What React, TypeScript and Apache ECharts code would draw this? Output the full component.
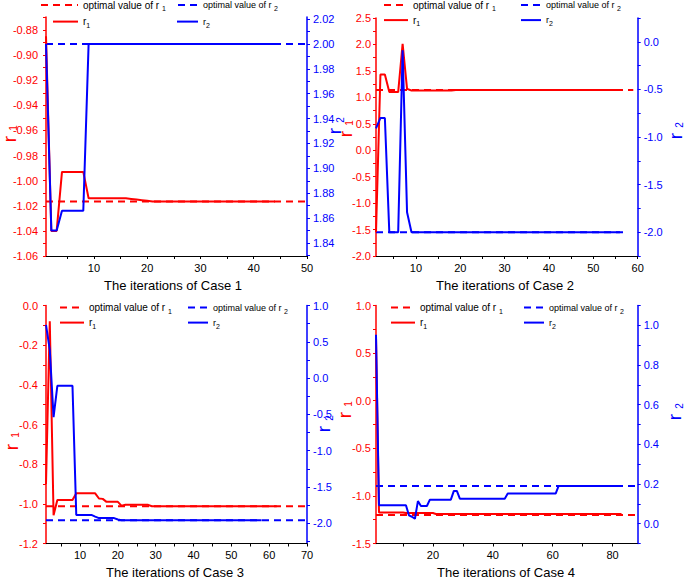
import React, { useEffect, useRef } from 'react';
import * as echarts from 'echarts';

const FONT = "'Liberation Sans', Arial, Helvetica, sans-serif";
const RED = '#ff0000';
const BLUE = '#0000ff';

// ---------------- Case 1 ----------------
const CASE1_R1 = [
  -0.885, -1.04, -1.04, -0.993, -0.993, -0.993, -0.993, -0.993,
  -1.014, -1.014, -1.014, -1.014, -1.014, -1.014, -1.014, -1.014,
  -1.0145, -1.015, -1.0155, -1.016,
  -1.0165, -1.0165, -1.0165, -1.0165, -1.0165, -1.0165, -1.0165, -1.0165,
  -1.0165, -1.0165, -1.0165, -1.0165, -1.0165, -1.0165, -1.0165, -1.0165,
  -1.0165, -1.0165, -1.0165, -1.0165, -1.0165, -1.0165, -1.0165, -1.0165,
];
const CASE1_R2 = [
  2.0, 1.85, 1.85, 1.866, 1.866, 1.866, 1.866, 1.866,
  2.0, 2.0, 2.0, 2.0, 2.0, 2.0, 2.0, 2.0, 2.0, 2.0, 2.0, 2.0,
  2.0, 2.0, 2.0, 2.0, 2.0, 2.0, 2.0, 2.0, 2.0, 2.0, 2.0, 2.0,
  2.0, 2.0, 2.0, 2.0, 2.0, 2.0, 2.0, 2.0, 2.0, 2.0, 2.0, 2.0,
];
const CASE1_OPT_R1 = -1.0165;
const CASE1_OPT_R2 = 2.0;
const CASE1_OPT_SPAN = [1, 50];

// ---------------- Case 2 ----------------
const CASE2_R1 = [
  -1.55, 1.43, 1.43, 1.1, 1.1, 1.1, 2.01, 1.16,
  1.13, 1.13, 1.13, 1.13, 1.13, 1.13, 1.13, 1.13, 1.13, 1.13,
  1.14, 1.14, 1.14, 1.14, 1.14, 1.14, 1.14, 1.14, 1.14, 1.14,
  1.14, 1.14, 1.14, 1.14, 1.14, 1.14, 1.14, 1.14, 1.14, 1.14,
  1.14, 1.14, 1.14, 1.14, 1.14, 1.14, 1.14, 1.14, 1.14, 1.14,
  1.14, 1.14, 1.14, 1.14, 1.14, 1.14, 1.14, 1.14,
];
const CASE2_R2 = [
  -0.91, -0.8, -0.8, -2.0, -2.0, -2.0, -0.09, -1.79,
  -2.0, -2.0, -2.0, -2.0, -2.0, -2.0, -2.0, -2.0, -2.0, -2.0, -2.0, -2.0,
  -2.0, -2.0, -2.0, -2.0, -2.0, -2.0, -2.0, -2.0, -2.0, -2.0, -2.0, -2.0,
  -2.0, -2.0, -2.0, -2.0, -2.0, -2.0, -2.0, -2.0, -2.0, -2.0, -2.0, -2.0,
  -2.0, -2.0, -2.0, -2.0, -2.0, -2.0, -2.0, -2.0, -2.0, -2.0, -2.0, -2.0,
];
const CASE2_OPT_R1 = 1.14;
const CASE2_OPT_R2 = -2.0;
const CASE2_OPT_R1_SPAN = [1, 59];
const CASE2_OPT_R2_SPAN = [1, 57];

// ---------------- Case 3 ----------------
const CASE3_R1 = [
  -0.9, -0.08, -1.057, -0.981, -0.981, -0.981, -0.981, -0.981,
  -0.947, -0.947, -0.947, -0.947, -0.947, -0.947,
  -0.973, -0.975, -0.99, -0.99, -0.99, -0.99,
  -1.01, -1.005, -1.005, -1.005, -1.005, -1.005, -1.005, -1.005,
  -1.012, -1.012, -1.012, -1.012, -1.012, -1.012, -1.012, -1.012,
  -1.012, -1.012, -1.012, -1.012, -1.012, -1.012, -1.012, -1.012,
  -1.012, -1.012, -1.012, -1.012, -1.012, -1.012, -1.012, -1.012,
  -1.012, -1.012, -1.012, -1.012, -1.012, -1.012, -1.012, -1.012,
  -1.012, -1.012,
];
const CASE3_R2 = [
  0.734, 0.389, -0.539, -0.107, -0.107, -0.107, -0.107, -0.107,
  -1.886, -1.886, -1.886, -1.886, -1.886, -1.91,
  -1.93, -1.93, -1.93, -1.93, -1.93, -1.95,
  -1.96, -1.96, -1.96, -1.96, -1.96, -1.96, -1.96, -1.96, -1.96, -1.96,
  -1.96, -1.96, -1.96, -1.96, -1.96, -1.96, -1.96, -1.96, -1.96, -1.96,
  -1.96, -1.96, -1.96, -1.96, -1.96, -1.96, -1.96, -1.96, -1.96, -1.96,
  -1.96, -1.96, -1.96, -1.96, -1.96, -1.96, -1.96, -1.96,
];
const CASE3_OPT_R1 = -1.012;
const CASE3_OPT_R2 = -1.96;
const CASE3_OPT_SPAN = [1, 70];

// ---------------- Case 4 ----------------
const CASE4_R1 = [
  0.674, -1.174, -1.174, -1.174, -1.174, -1.174, -1.174, -1.174, -1.174, -1.174,
  -1.18, -1.18, -1.18, -1.18, -1.18, -1.18, -1.18, -1.18, -1.18, -1.18,
  -1.19, -1.19, -1.19, -1.19, -1.19, -1.19, -1.19, -1.19, -1.19, -1.19,
  -1.19, -1.19, -1.19, -1.19, -1.19, -1.19, -1.19, -1.19, -1.19, -1.19,
  -1.19, -1.19, -1.19, -1.19, -1.19, -1.19, -1.19, -1.19, -1.19, -1.19,
  -1.19, -1.19, -1.19, -1.19, -1.19, -1.19, -1.19, -1.19, -1.19, -1.19,
  -1.19, -1.19, -1.19, -1.19, -1.19, -1.19, -1.19, -1.19, -1.19, -1.19,
  -1.19, -1.19, -1.19, -1.19, -1.19, -1.19, -1.19, -1.19, -1.19, -1.19,
  -1.19, -1.19, -1.19,
];
const CASE4_R2 = [
  0.953, 0.093, 0.093, 0.093, 0.093, 0.093, 0.093, 0.093, 0.093, 0.093, 0.093,
  0.042, 0.035, 0.025, 0.114, 0.089, 0.089, 0.089,
  0.121, 0.121, 0.121, 0.121, 0.121, 0.121, 0.121, 0.121,
  0.165, 0.165,
  0.126, 0.126, 0.126, 0.126, 0.126, 0.126, 0.126, 0.126,
  0.126, 0.126, 0.126, 0.126, 0.126, 0.126, 0.126, 0.126,
  0.152, 0.152, 0.152, 0.152, 0.152, 0.152, 0.152, 0.152, 0.152,
  0.152, 0.152, 0.152, 0.152, 0.152, 0.152, 0.152, 0.152,
  0.19, 0.19, 0.19, 0.19, 0.19, 0.19, 0.19, 0.19, 0.19, 0.19, 0.19,
  0.19, 0.19, 0.19, 0.19, 0.19, 0.19, 0.19, 0.19, 0.19, 0.19, 0.19,
];
const CASE4_OPT_R1 = -1.2;
const CASE4_OPT_R2 = 0.19;
const CASE4_OPT_SPAN = [1, 88];

// ---------------- tick labels ----------------
const X1_LABELS = [10, 20, 30, 40, 50];
const X1_TICKS = [5, 10, 15, 20, 25, 30, 35, 40, 45, 50];
const X2_LABELS = [10, 20, 30, 40, 50, 60];
const X2_TICKS = [5, 10, 15, 20, 25, 30, 35, 40, 45, 50, 55, 60];
const X3_LABELS = [10, 20, 30, 40, 50, 60, 70];
const X3_TICKS = [5, 10, 15, 20, 25, 30, 35, 40, 45, 50, 55, 60, 65, 70];
const X4_LABELS = [20, 40, 60, 80];
const X4_TICKS = [10, 20, 30, 40, 50, 60, 70, 80];

const L1_LABELS = [-1.06, -1.04, -1.02, -1.0, -0.98, -0.96, -0.94, -0.92, -0.9, -0.88];
const L1_TICKS = [-1.06, -1.05, -1.04, -1.03, -1.02, -1.01, -1.0, -0.99, -0.98, -0.97,
  -0.96, -0.95, -0.94, -0.93, -0.92, -0.91, -0.9, -0.89, -0.88, -0.87];
const R1_LABELS = [1.84, 1.86, 1.88, 1.9, 1.92, 1.94, 1.96, 1.98, 2.0, 2.02];
const R1_TICKS = [1.83, 1.84, 1.85, 1.86, 1.87, 1.88, 1.89, 1.9, 1.91, 1.92,
  1.93, 1.94, 1.95, 1.96, 1.97, 1.98, 1.99, 2.0, 2.01, 2.02];

const L2_LABELS = [-2.0, -1.5, -1.0, -0.5, 0.0, 0.5, 1.0, 1.5, 2.0, 2.5];
const L2_TICKS = [-2.0, -1.75, -1.5, -1.25, -1.0, -0.75, -0.5, -0.25, 0.0, 0.25,
  0.5, 0.75, 1.0, 1.25, 1.5, 1.75, 2.0, 2.25, 2.5];
const R2_LABELS = [-2.0, -1.5, -1.0, -0.5, 0.0];
const R2_TICKS = [-2.25, -2.0, -1.75, -1.5, -1.25, -1.0, -0.75, -0.5, -0.25, 0.0, 0.25];

const L3_LABELS = [-1.2, -1.0, -0.8, -0.6, -0.4, -0.2, 0.0];
const L3_TICKS = [-1.2, -1.1, -1.0, -0.9, -0.8, -0.7, -0.6, -0.5, -0.4, -0.3, -0.2, -0.1, 0.0];
const R3_LABELS = [-2.0, -1.5, -1.0, -0.5, 0.0, 0.5, 1.0];
const R3_TICKS = [-2.25, -2.0, -1.75, -1.5, -1.25, -1.0, -0.75, -0.5, -0.25, 0.0, 0.25, 0.5, 0.75, 1.0];

const L4_LABELS = [-1.5, -1.0, -0.5, 0.0, 0.5, 1.0];
const L4_TICKS = [-1.5, -1.25, -1.0, -0.75, -0.5, -0.25, 0.0, 0.25, 0.5, 0.75, 1.0];
const R4_LABELS = [0.0, 0.2, 0.4, 0.6, 0.8, 1.0];
const R4_TICKS = [-0.1, 0.0, 0.1, 0.2, 0.3, 0.4, 0.5, 0.6, 0.7, 0.8, 0.9, 1.0, 1.1];

const TITLES = ['The iterations of Case 1', 'The iterations of Case 2', 'The iterations of Case 3', 'The iterations of Case 4'];

// ---------------- layout (positions / styles) ----------------
const PANELS = [
  {
    grid: { left: 46, top: 17, width: 261, height: 239 },
    x: { min: 1, max: 50, labels: X1_LABELS, ticks: X1_TICKS },
    l: { min: -1.06, max: -0.8696, labels: L1_LABELS, ticks: L1_TICKS, digits: 2, margin: 8 },
    r: { min: 1.8296, max: 2.0216, labels: R1_LABELS, ticks: R1_TICKS, digits: 2, margin: 6 },
    r1: CASE1_R1, r2: CASE1_R2, opt1: CASE1_OPT_R1, opt2: CASE1_OPT_R2,
    span1: CASE1_OPT_SPAN, span2: CASE1_OPT_SPAN,
    leg: { x1: 40, w1: 37, x2: 177, w2: 20, x3: 52, w3: 25, x4: 176, w4: 21, y1: 6.5, y2: 23 },
    names: { l: [9, 139, 13, 128], r: [334, 131, 340, 120] },
    title: [173, 285],
  },
  {
    grid: { left: 376, top: 18, width: 261.7, height: 238 },
    x: { min: 1, max: 60, labels: X2_LABELS, ticks: X2_TICKS },
    l: { min: -2.0, max: 2.5, labels: L2_LABELS, ticks: L2_TICKS, digits: 1, margin: 5 },
    r: { min: -2.25, max: 0.25, labels: R2_LABELS, ticks: R2_TICKS, digits: 1, margin: 6 },
    r1: CASE2_R1, r2: CASE2_R2, opt1: CASE2_OPT_R1, opt2: CASE2_OPT_R2,
    span1: CASE2_OPT_R1_SPAN, span2: CASE2_OPT_R2_SPAN,
    leg: { x1: 383, w1: 24, x2: 520, w2: 20, x3: 383, w3: 24, x4: 520, w4: 20, y1: 6.5, y2: 21.5 },
    names: { l: [345, 134, 349, 123], r: [675, 136, 679, 125] },
    title: [505, 285],
  },
  {
    grid: { left: 46, top: 305.5, width: 261, height: 238 },
    x: { min: 1, max: 70, labels: X3_LABELS, ticks: X3_TICKS },
    l: { min: -1.2, max: 0.0, labels: L3_LABELS, ticks: L3_TICKS, digits: 1, margin: 8 },
    r: { min: -2.28, max: 1.0, labels: R3_LABELS, ticks: R3_TICKS, digits: 1, margin: 6 },
    r1: CASE3_R1, r2: CASE3_R2, opt1: CASE3_OPT_R1, opt2: CASE3_OPT_R2,
    span1: CASE3_OPT_SPAN, span2: CASE3_OPT_SPAN,
    leg: { x1: 59, w1: 24, x2: 187, w2: 20, x3: 59, w3: 24, x4: 187, w4: 20, y1: 309, y2: 324 },
    names: { l: [11, 447, 15, 435], r: [323, 429, 329, 418] },
    title: [175, 572],
  },
  {
    grid: { left: 376, top: 305.5, width: 261.7, height: 238 },
    x: { min: 1, max: 88.4, labels: X4_LABELS, ticks: X4_TICKS },
    l: { min: -1.5, max: 1.0, labels: L4_LABELS, ticks: L4_TICKS, digits: 1, margin: 5 },
    r: { min: -0.1, max: 1.1, labels: R4_LABELS, ticks: R4_TICKS, digits: 1, margin: 6 },
    r1: CASE4_R1, r2: CASE4_R2, opt1: CASE4_OPT_R1, opt2: CASE4_OPT_R2,
    span1: CASE4_OPT_SPAN, span2: CASE4_OPT_SPAN,
    leg: { x1: 390, w1: 24, x2: 523, w2: 20, x3: 390, w3: 24, x4: 523, w4: 20, y1: 309, y2: 324 },
    names: { l: [344, 415, 348, 404], r: [674, 417, 679, 406] },
    title: [506, 572],
  },
];

const toPoints = (vals: number[]) => vals.map((v, i) => [i + 1, v]);
const flat = (v: number, span: number[]) => [[span[0], v], [span[1], v]];

const LEGEND_TEXT: Record<string, string> = {
  opt1: '{t|optimal value of r }{s|1}',
  opt2: '{t|optimal value of r }{s|2}',
  r1: '{t|r}{s|1}',
  r2: '{t|r}{s|2}',
};

function legendItem(name: string, kind: string, left: number, cy: number, w: number, size: number) {
  return {
    show: true,
    data: [name],
    left,
    top: cy - 7,
    padding: 0,
    itemGap: 0,
    itemWidth: w,
    itemHeight: 14,
    selectedMode: false,
    itemStyle: { opacity: 0, borderWidth: 0 },
    formatter: () => LEGEND_TEXT[kind],
    textStyle: {
      color: '#000',
      fontFamily: FONT,
      fontSize: size,
      rich: {
        t: { fontFamily: FONT, fontSize: size, lineHeight: 14, verticalAlign: 'middle', color: '#000' },
        s: { fontFamily: FONT, fontSize: 7, lineHeight: 8, verticalAlign: 'bottom', color: '#000' },
      },
    },
  };
}

function axisTitle(sub: string, pos: number[], color: string) {
  return [
    {
      type: 'text', x: pos[0], y: pos[1], rotation: Math.PI / 2,
      style: { text: 'r', fill: color, fontFamily: FONT, fontSize: 19, align: 'center', verticalAlign: 'middle' },
    },
    {
      type: 'text', x: pos[2], y: pos[3], rotation: Math.PI / 2,
      style: { text: sub, fill: color, fontFamily: FONT, fontSize: 10, align: 'center', verticalAlign: 'middle' },
    },
  ];
}

function buildOption() {
  const grid: any[] = [];
  const xAxis: any[] = [];
  const yAxis: any[] = [];
  const series: any[] = [];
  const legend: any[] = [];
  const graphic: any[] = [];

  PANELS.forEach((p, i) => {
    grid.push({ ...p.grid, containLabel: false, outerBoundsMode: 'none' });
    xAxis.push({
      type: 'value', gridIndex: i, min: p.x.min, max: p.x.max,
      splitLine: { show: false },
      axisLine: { show: true, onZero: false, lineStyle: { color: '#000', width: 1 } },
      axisTick: { show: true, length: 3, customValues: p.x.ticks, lineStyle: { color: '#000' } },
      axisLabel: { customValues: p.x.labels, color: '#000', fontSize: 11, fontFamily: FONT, margin: 6,
        formatter: (v: number) => String(Math.round(v)) },
    });
    const yl = p.l;
    const yr = p.r;
    yAxis.push({
      type: 'value', gridIndex: i, position: 'left', min: yl.min, max: yl.max,
      splitLine: { show: false },
      axisLine: { show: true, onZero: false, lineStyle: { color: RED, width: 1.5 } },
      axisTick: { show: true, length: 3, customValues: yl.ticks, lineStyle: { color: RED } },
      axisLabel: { customValues: yl.labels, color: RED, fontSize: 11, fontFamily: FONT, margin: yl.margin,
        formatter: (v: number) => v.toFixed(yl.digits) },
    });
    yAxis.push({
      type: 'value', gridIndex: i, position: 'right', min: yr.min, max: yr.max,
      splitLine: { show: false },
      axisLine: { show: true, onZero: false, lineStyle: { color: BLUE, width: 1.5 } },
      axisTick: { show: true, length: 3, customValues: yr.ticks, lineStyle: { color: BLUE } },
      axisLabel: { customValues: yr.labels, color: BLUE, fontSize: 11, fontFamily: FONT, margin: yr.margin,
        formatter: (v: number) => v.toFixed(yr.digits) },
    });
    const li = i * 2;
    const ri = i * 2 + 1;
    const n = (k: string) => `case${i + 1}_${k}`;
    series.push({
      type: 'line', name: n('opt1'), xAxisIndex: i, yAxisIndex: li, symbol: 'none',
      data: flat(p.opt1, p.span1), lineStyle: { color: RED, width: 2, type: [7, 5] }, itemStyle: { color: RED },
    });
    series.push({
      type: 'line', name: n('opt2'), xAxisIndex: i, yAxisIndex: ri, symbol: 'none',
      data: flat(p.opt2, p.span2), lineStyle: { color: BLUE, width: 2, type: [7, 5] }, itemStyle: { color: BLUE },
    });
    series.push({
      type: 'line', name: n('r1'), xAxisIndex: i, yAxisIndex: li, symbol: 'none',
      data: toPoints(p.r1), lineStyle: { color: RED, width: 2 }, itemStyle: { color: RED },
    });
    series.push({
      type: 'line', name: n('r2'), xAxisIndex: i, yAxisIndex: ri, symbol: 'none',
      data: toPoints(p.r2), lineStyle: { color: BLUE, width: 2 }, itemStyle: { color: BLUE },
    });
    const g = p.leg;
    legend.push(legendItem(n('opt1'), 'opt1', g.x1, g.y1, g.w1, 10));
    legend.push(legendItem(n('opt2'), 'opt2', g.x2, g.y1, g.w2, 9));
    legend.push(legendItem(n('r1'), 'r1', g.x3, g.y2, g.w3, 10));
    legend.push(legendItem(n('r2'), 'r2', g.x4, g.y2, g.w4, 9));
    graphic.push(...axisTitle('1', p.names.l, RED));
    graphic.push(...axisTitle('2', p.names.r, BLUE));
    graphic.push({
      type: 'text', x: p.title[0], y: p.title[1],
      style: { text: TITLES[i], fill: '#000', fontFamily: FONT, fontSize: 13, align: 'center', verticalAlign: 'middle' },
    });
  });

  return {
    animation: false,
    backgroundColor: '#fff',
    textStyle: { fontFamily: FONT },
    grid, xAxis, yAxis, series, legend, graphic,
  };
}

export default function App() {
  const ref = useRef<HTMLDivElement>(null);
  useEffect(() => {
    const chart = echarts.init(ref.current as HTMLDivElement, null, { renderer: 'svg' });
    chart.setOption(buildOption() as any);
    return () => chart.dispose();
  }, []);
  return <div ref={ref} style={{ position: 'absolute', left: 0, top: 0, width: 685, height: 580 }} />;
}
